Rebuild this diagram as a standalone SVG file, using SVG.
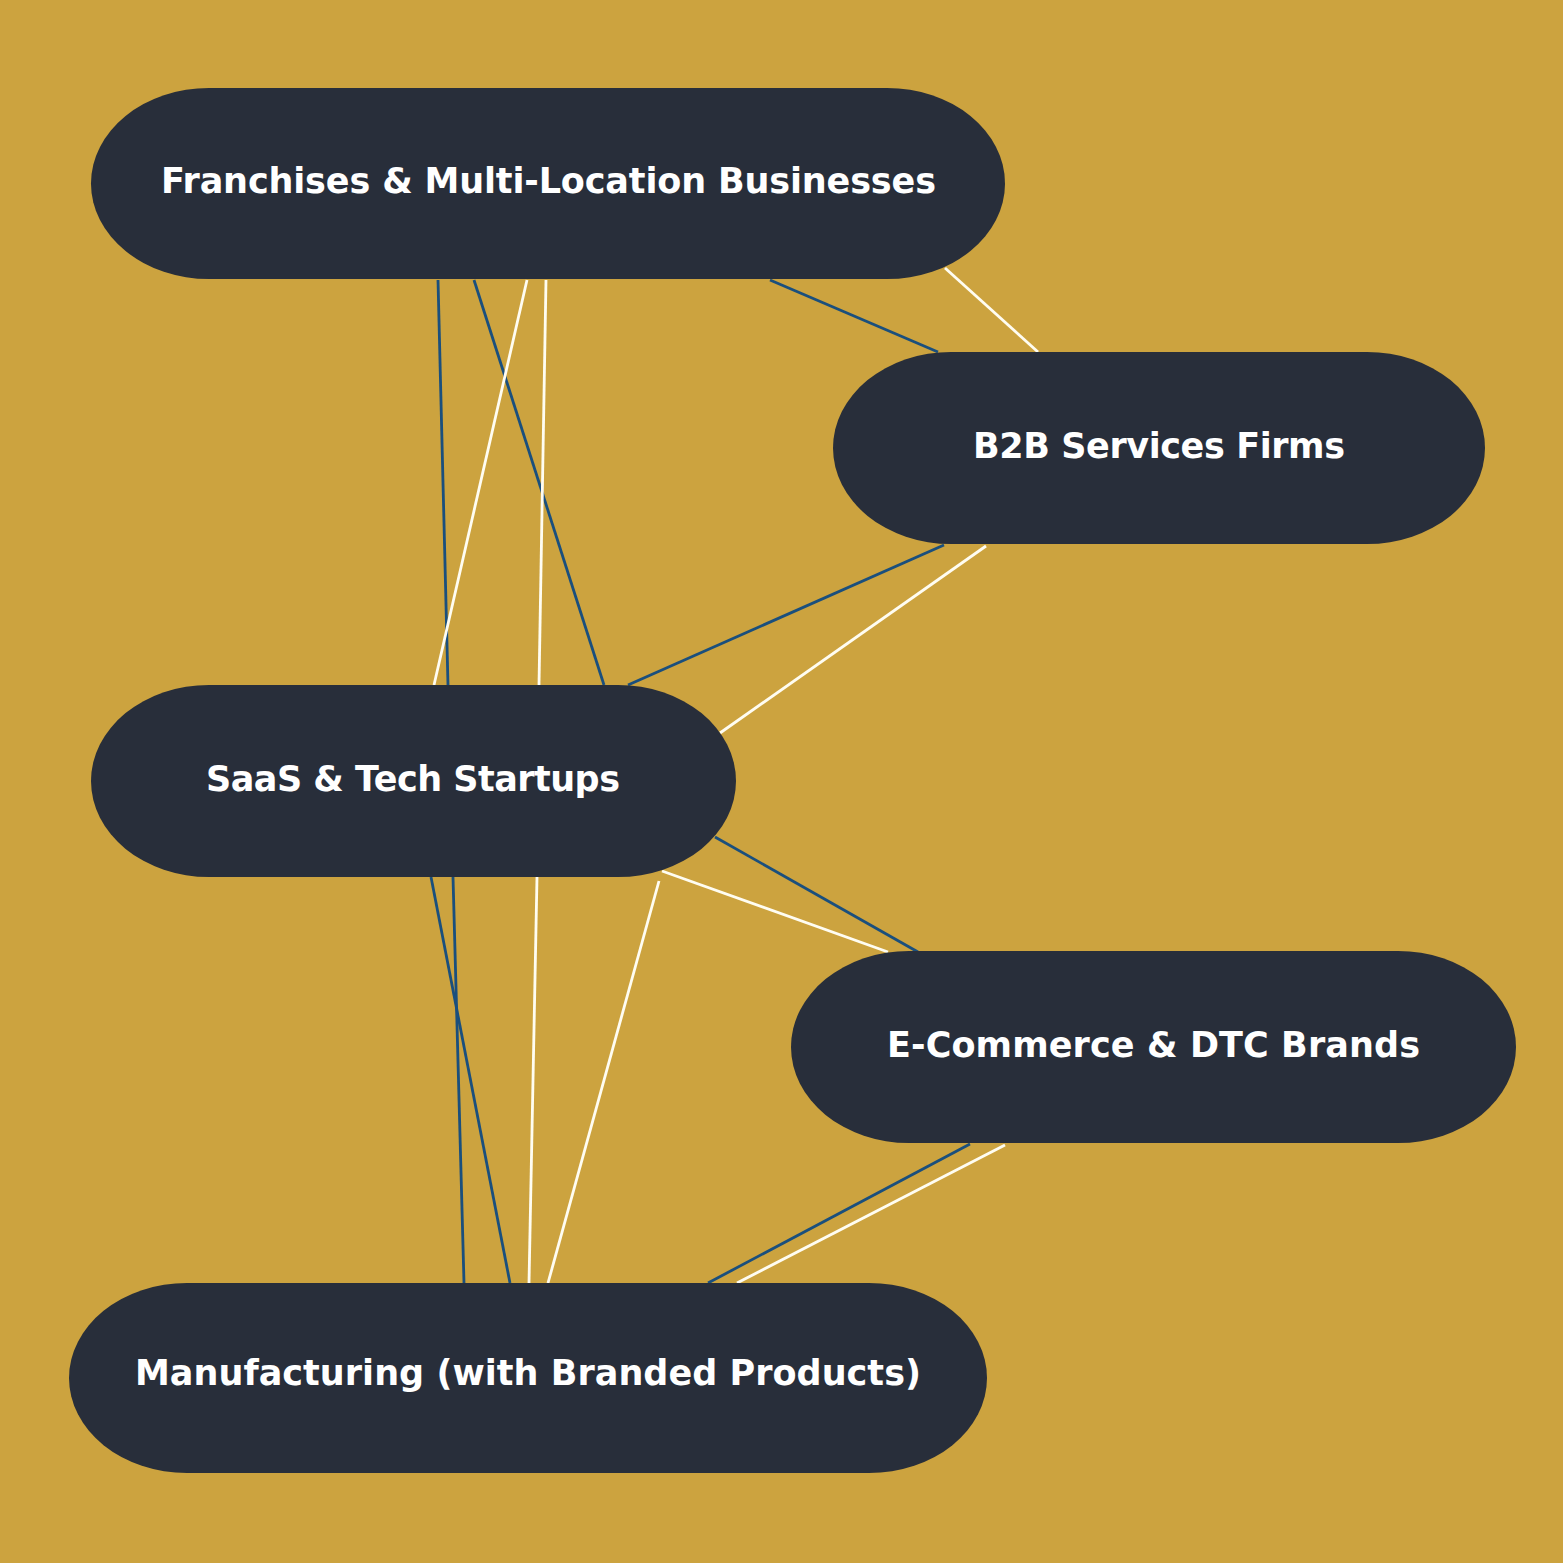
<svg xmlns="http://www.w3.org/2000/svg" width="1563" height="1563" viewBox="0 0 1563 1563">
<style>
.node{fill:#282e3a}
.label{fill:#ffffff;font-family:"DejaVu Sans","Liberation Sans",sans-serif;font-weight:bold;font-size:35px;text-anchor:middle;dominant-baseline:central}
.blue{stroke:#1a4f7d;stroke-width:2.8;fill:none}
.white{stroke:#fffdf2;stroke-width:2.8;fill:none}
</style>
<rect width="1563" height="1563" fill="#cca33f"/>
<g id="connectors">
<line class="blue" x1="438" y1="280" x2="448" y2="685"/>
<line class="blue" x1="474" y1="280" x2="604" y2="685"/>
<line class="white" x1="527" y1="280" x2="434" y2="685"/>
<line class="white" x1="546" y1="280" x2="539" y2="685"/>
<line class="blue" x1="770" y1="280" x2="938" y2="352"/>
<line class="white" x1="945" y1="268" x2="1038" y2="352"/>
<line class="blue" x1="944" y1="545" x2="628" y2="685"/>
<line class="white" x1="986" y1="546" x2="720" y2="733"/>
<line class="blue" x1="715" y1="837" x2="918" y2="952"/>
<line class="white" x1="662" y1="871" x2="888" y2="952"/>
<line class="white" x1="659" y1="881" x2="548" y2="1283"/>
<line class="white" x1="537" y1="877" x2="529" y2="1283"/>
<line class="blue" x1="431" y1="877" x2="510" y2="1283"/>
<line class="blue" x1="453" y1="877" x2="464" y2="1283"/>
<line class="blue" x1="970" y1="1144" x2="708" y2="1283"/>
<line class="white" x1="1005" y1="1145" x2="737" y2="1283"/>
</g>
<g id="node-franchises">
<rect class="node" x="91" y="88" width="914" height="191" rx="118" ry="95.5"/>
<text class="label" x="548.5" y="181" textLength="775">Franchises &amp; Multi-Location Businesses</text>
</g>
<g id="node-b2b">
<rect class="node" x="833" y="352" width="652" height="192" rx="118" ry="96"/>
<text class="label" x="1159" y="446" textLength="372">B2B Services Firms</text>
</g>
<g id="node-saas">
<rect class="node" x="91" y="685" width="645" height="192" rx="118" ry="96"/>
<text class="label" x="413" y="779" textLength="414">SaaS &amp; Tech Startups</text>
</g>
<g id="node-ecommerce">
<rect class="node" x="791" y="951" width="725" height="192" rx="118" ry="96"/>
<text class="label" x="1153.5" y="1045" textLength="533">E-Commerce &amp; DTC Brands</text>
</g>
<g id="node-manufacturing">
<rect class="node" x="69" y="1283" width="918" height="190" rx="118" ry="95"/>
<text class="label" x="528" y="1373" textLength="786">Manufacturing (with Branded Products)</text>
</g>
</svg>
